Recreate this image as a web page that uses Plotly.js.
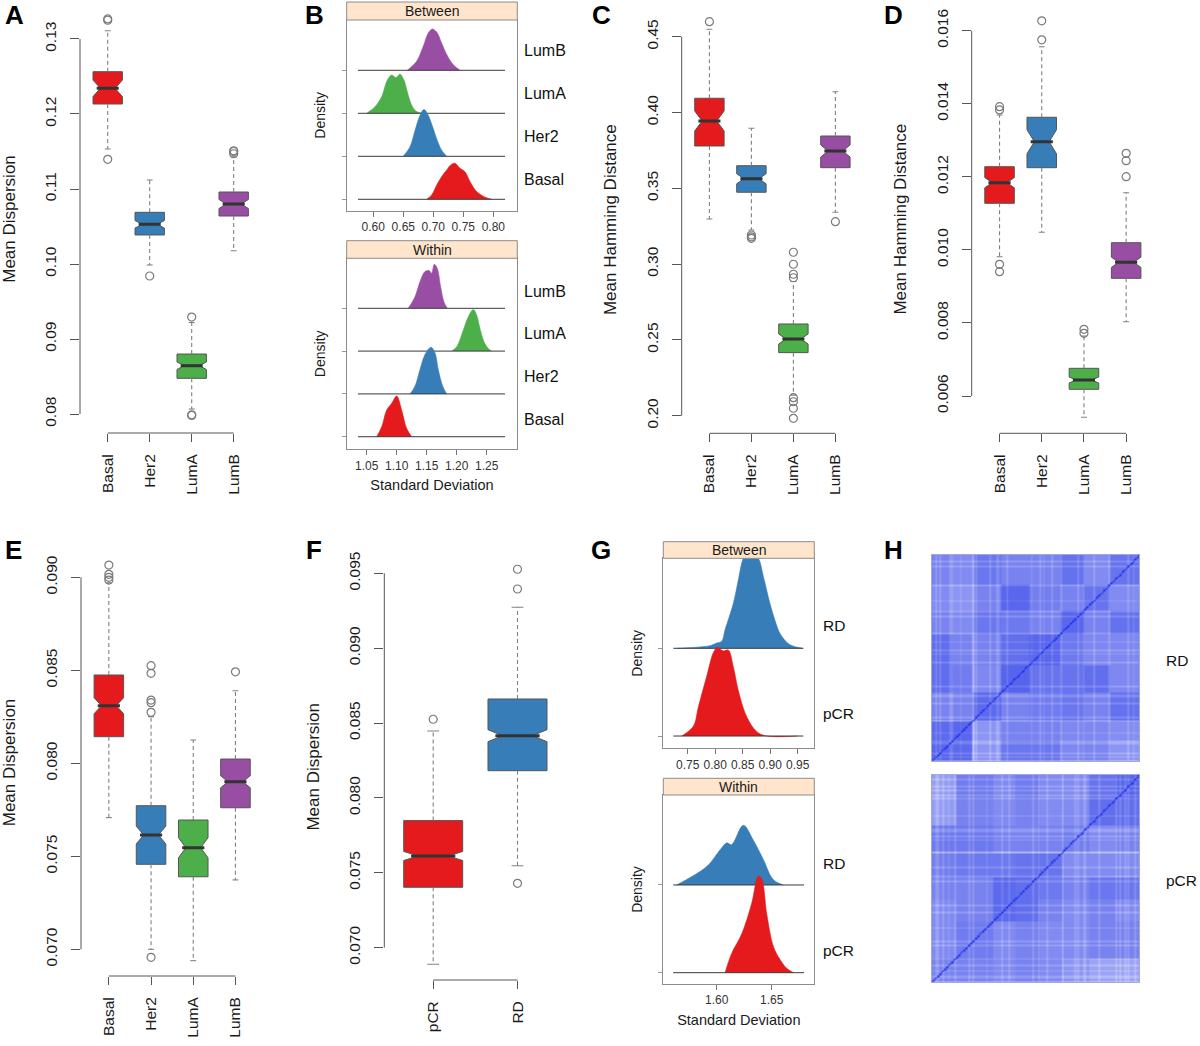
<!DOCTYPE html>
<html><head><meta charset="utf-8">
<script src="https://cdn.plot.ly/plotly-3.0.1.min.js"></script>
<style>html,body{margin:0;padding:0;background:#fff}#chart{width:1200px;height:1046px}</style>
</head><body><div id="chart"></div>
<script>
// ================= DATA =================
const subtypes = ['Basal', 'Her2', 'LumA', 'LumB'];
const subtypeColors = ['#E41A1C', '#377EB8', '#4DAF4A', '#984EA3'];
const responses = ['pCR', 'RD'];
const responseColors = ['#E41A1C', '#377EB8'];

// Panel A - Mean Dispersion by subtype
const aQ1 = [0.12133, 0.10387, 0.08476, 0.10640];
const aMed = [0.12342, 0.10529, 0.08644, 0.10800];
const aQ3 = [0.12564, 0.10689, 0.08800, 0.10960];
const aLo = [0.11533, 0.09987, 0.08067, 0.10177];
const aHi = [0.13110, 0.11120, 0.09220, 0.11430];
const aNotch = [0.0011, 0.0005, 0.0005, 0.0006];
const aOut = [[0.13267, 0.13250, 0.11396], [0.09840], [0.09293, 0.07990, 0.07980], [0.11510, 0.11470, 0.11500]];
const aTicks = [0.08, 0.09, 0.10, 0.11, 0.12, 0.13];

// Panel C - Mean Hamming Distance by subtype
const cQ1 = [0.3779, 0.3474, 0.2416, 0.3636];
const cMed = [0.3944, 0.3563, 0.2506, 0.3746];
const cQ3 = [0.4094, 0.3649, 0.2605, 0.3845];
const cLo = [0.3297, 0.3225, 0.2136, 0.3342];
const cHi = [0.4549, 0.3896, 0.2885, 0.4137];
const cNotch = [0.0066, 0.0033, 0.0033, 0.0040];
const cOut = [[0.4599], [0.3192, 0.3170, 0.3180], [0.3078, 0.2999, 0.2933, 0.2910, 0.2119, 0.2092, 0.2049, 0.1983], [0.3280]];
const cTicks = [0.20, 0.25, 0.30, 0.35, 0.40, 0.45];

// Panel D - Mean Hamming Distance by subtype
const dQ1 = [0.011275, 0.01225, 0.006184, 0.009222];
const dMed = [0.011839, 0.01296, 0.006439, 0.009661];
const dQ3 = [0.012277, 0.01363, 0.006759, 0.010197];
const dLo = [0.009814, 0.010482, 0.005418, 0.008035];
const dHi = [0.013693, 0.01556, 0.007643, 0.011566];
const dNotch = [0.00014, 0.00033, 0.00008, 0.00014];
const dOut = [[0.01392, 0.01383, 0.009606, 0.009403], [0.01575, 0.01627], [0.007826, 0.007717], [0.012004, 0.012442, 0.012644]];
const dTicks = [0.006, 0.008, 0.010, 0.012, 0.014, 0.016];

// Panel E - Mean Dispersion by subtype
const eQ1 = [0.08143, 0.07457, 0.07390, 0.07761];
const eMed = [0.083097, 0.076145, 0.07546, 0.07901];
const eQ3 = [0.084747, 0.07772, 0.07695, 0.08023];
const eLo = [0.07708, 0.07000, 0.06939, 0.07373];
const eHi = [0.08970, 0.08251, 0.08125, 0.08390];
const eNotch = [0.00043, 0.00048, 0.00054, 0.00032];
const eOut = [[0.09066, 0.09016, 0.09000, 0.08985], [0.08525, 0.08484, 0.08340, 0.08326, 0.08274, 0.06957], [], [0.08492]];
const eTicks = [0.070, 0.075, 0.080, 0.085, 0.090];

// Panel F - Mean Dispersion by response
const fQ1 = [0.074029, 0.081816];
const fMed = [0.076119, 0.084154];
const fQ3 = [0.078482, 0.086605];
const fLo = [0.068886, 0.075470];
const fHi = [0.084470, 0.092730];
const fNotch = [0.0003, 0.0004];
const fOut = [[0.08525], [0.09527, 0.09395, 0.074296]];
const fTicks = [0.070, 0.075, 0.080, 0.085, 0.090, 0.095];

// Panel B - density ridges (order: Basal, Her2, LumA, LumB; heights relative to row spacing)
const bBetweenX = [
  [0.689, 0.6973, 0.7057, 0.714, 0.7223, 0.729, 0.7362, 0.7445, 0.7528, 0.7612, 0.7723, 0.7862, 0.7973],
  [0.650, 0.6612, 0.6695, 0.6778, 0.6845, 0.6917, 0.699, 0.7067, 0.714, 0.7223],
  [0.589, 0.6028, 0.614, 0.6233, 0.6306, 0.6378, 0.6445, 0.6512, 0.6567, 0.664, 0.6723, 0.6833],
  [0.6567, 0.6722, 0.6833, 0.6917, 0.6983, 0.7056, 0.714, 0.7223, 0.7333, 0.7445]
];
const bBetweenH = [
  [0, 0.10, 0.33, 0.53, 0.68, 0.80, 0.84, 0.72, 0.64, 0.41, 0.18, 0.05, 0],
  [0, 0.22, 0.60, 0.95, 1.09, 0.95, 0.68, 0.37, 0.14, 0],
  [0, 0.15, 0.39, 0.77, 0.89, 0.83, 0.91, 0.77, 0.50, 0.19, 0.04, 0],
  [0, 0.21, 0.56, 0.87, 0.96, 0.89, 0.63, 0.37, 0.13, 0]
];
const bBetweenSpan = [0.5745, 0.8195];
const bBetweenTicks = [0.60, 0.65, 0.70, 0.75, 0.80];

const bWithinX = [
  [1.0667, 1.075, 1.0833, 1.0917, 1.100, 1.1083, 1.1167, 1.125],
  [1.1222, 1.1305, 1.1388, 1.1472, 1.1572, 1.1638, 1.1693, 1.1767, 1.1833],
  [1.1917, 1.200, 1.211, 1.2193, 1.2277, 1.2333, 1.2388, 1.2455, 1.2527, 1.2583],
  [1.1193, 1.1305, 1.1388, 1.1472, 1.1543, 1.1583, 1.1627, 1.1677, 1.1733, 1.1788, 1.1843]
];
const bWithinH = [
  [0, 0.23, 0.62, 0.78, 0.95, 0.62, 0.19, 0],
  [0, 0.18, 0.57, 0.92, 1.09, 0.96, 0.57, 0.18, 0],
  [0, 0.10, 0.49, 0.80, 0.97, 0.84, 0.53, 0.22, 0.06, 0],
  [0, 0.27, 0.62, 0.86, 0.88, 0.82, 1.03, 0.93, 0.50, 0.15, 0]
];
const bWithinSpan = [1.0355, 1.2805];
const bWithinTicks = [1.05, 1.10, 1.15, 1.20, 1.25];

// Panel G - density ridges (order: pCR, RD)
const gBetweenX = [
  [0.739, 0.7602, 0.7693, 0.7845, 0.7966, 0.8039, 0.8148, 0.8239, 0.8329, 0.842, 0.8573, 0.8755, 0.8936, 0.950],
  [0.730, 0.7905, 0.8027, 0.8118, 0.8178, 0.8329, 0.842, 0.8511, 0.862, 0.8784, 0.8875, 0.8996, 0.9087, 0.9178, 0.936, 0.960]
];
const gBetweenH = [
  [0, 0.11, 0.33, 0.68, 0.95, 1.01, 0.97, 0.98, 0.79, 0.52, 0.22, 0.05, 0, 0],
  [0, 0.03, 0.06, 0.08, 0.21, 0.51, 0.78, 1.03, 1.14, 1.03, 0.82, 0.51, 0.32, 0.17, 0.04, 0]
];
const gBetweenSpan = [0.7238, 0.9602];
const gBetweenTicks = [0.75, 0.80, 0.85, 0.90, 0.95];

const gWithinX = [
  [1.6076, 1.6136, 1.6227, 1.6318, 1.6379, 1.6409, 1.6455, 1.6515, 1.6576, 1.6636, 1.6697],
  [1.5636, 1.5909, 1.603, 1.6091, 1.6136, 1.6242, 1.6333, 1.6424, 1.6515, 1.6606]
];
const gWithinH = [
  [0, 0.22, 0.44, 0.79, 1.10, 1.07, 0.67, 0.30, 0.15, 0.05, 0],
  [0, 0.21, 0.40, 0.48, 0.46, 0.68, 0.51, 0.29, 0.06, 0]
];
const gWithinSpan = [1.5605, 1.6794];
const gWithinTicks = [1.60, 1.65];

// Panel H - similarity matrices: cluster boundaries (fraction of samples), block intensities,
// strong and faint light stripes (fraction positions)
const hmSize = 120;
const hmRdBounds = [0, 0.10, 0.19, 0.33, 0.47, 0.62, 0.73, 0.86, 1.0];
const hmRdBlocks = [
  [0.70, 0.68, 0.50, 0.62, 0.62, 0.55, 0.56, 0.50],
  [0.68, 0.70, 0.50, 0.57, 0.57, 0.55, 0.55, 0.53],
  [0.57, 0.57, 0.68, 0.57, 0.60, 0.62, 0.57, 0.64],
  [0.66, 0.60, 0.55, 0.72, 0.63, 0.63, 0.65, 0.55],
  [0.66, 0.57, 0.57, 0.65, 0.70, 0.61, 0.55, 0.55],
  [0.57, 0.54, 0.62, 0.61, 0.57, 0.70, 0.57, 0.64],
  [0.54, 0.50, 0.57, 0.70, 0.59, 0.57, 0.63, 0.54],
  [0.57, 0.54, 0.62, 0.57, 0.57, 0.64, 0.54, 0.63]
];
const hmRdStrong = [0.195];
const hmRdFaint = [0.024, 0.035, 0.084, 0.096, 0.14, 0.212, 0.277, 0.309, 0.322, 0.362, 0.477, 0.523,
  0.534, 0.582, 0.622, 0.703, 0.732, 0.775, 0.855, 0.944, 0.973];
const hmPcrBounds = [0, 0.12, 0.29, 0.40, 0.51, 0.625, 0.76, 0.88, 1.0];
const hmPcrBlocks = [
  [0.57, 0.57, 0.54, 0.57, 0.54, 0.50, 0.46, 0.46],
  [0.54, 0.60, 0.54, 0.57, 0.54, 0.54, 0.57, 0.57],
  [0.54, 0.57, 0.68, 0.65, 0.57, 0.54, 0.57, 0.54],
  [0.57, 0.57, 0.68, 0.65, 0.61, 0.57, 0.62, 0.62],
  [0.59, 0.61, 0.61, 0.63, 0.63, 0.54, 0.54, 0.54],
  [0.61, 0.61, 0.57, 0.57, 0.57, 0.59, 0.54, 0.57],
  [0.48, 0.57, 0.54, 0.57, 0.54, 0.54, 0.65, 0.65],
  [0.48, 0.60, 0.54, 0.60, 0.54, 0.54, 0.63, 0.70]
];
const hmPcrStrong = [0.625];
const hmPcrFaint = [0.019, 0.032, 0.051, 0.08, 0.116, 0.18, 0.193, 0.26, 0.341, 0.37, 0.486, 0.514,
  0.55, 0.691, 0.703, 0.727, 0.74, 0.807, 0.884, 0.904, 0.932, 0.944, 0.981];

// ================= LAYOUT HELPERS =================
const W = 1200, H = 1046;
const FONT = 'Liberation Sans, Arial, Helvetica, sans-serif';
const px = x => x / W;
const py = y => 1 - y / H;
const traces = [], shapes = [], annotations = [];
const layout = {
  width: W, height: H, margin: {l: 0, r: 0, t: 0, b: 0},
  showlegend: false, hovermode: false,
  paper_bgcolor: '#ffffff', plot_bgcolor: 'rgba(0,0,0,0)',
  font: {family: FONT, color: '#222'}
};
const sfx = n => (n === 1 ? '' : String(n));

function boxPanel(n, cats, colors, q1, med, q3, lo, hi, notch, outs, c) {
  const xa = 'x' + sfx(n), ya = 'y' + sfx(n);
  const bw = 0.7, cap = 0.07, medHalf = bw / 2 * 0.75;
  cats.forEach((cat, i) => {
    const p = i + 1;
    traces.push({type: 'scatter', mode: 'lines', xaxis: xa, yaxis: ya,
      x: [p, p, null, p, p], y: [q3[i], hi[i], null, q1[i], lo[i]],
      line: {color: '#808080', width: 1.1, dash: '4px,3px'}, hoverinfo: 'skip'});
    traces.push({type: 'scatter', mode: 'lines', xaxis: xa, yaxis: ya,
      x: [p - cap, p + cap, null, p - cap, p + cap], y: [hi[i], hi[i], null, lo[i], lo[i]],
      line: {color: '#808080', width: 1.1}, hoverinfo: 'skip'});
    traces.push({type: 'box', xaxis: xa, yaxis: ya, name: cat, x: [p],
      q1: [q1[i]], median: [med[i]], q3: [q3[i]], lowerfence: [q1[i]], upperfence: [q3[i]],
      notched: true, notchspan: [notch[i]], notchwidth: 0.25, width: bw, whiskerwidth: 0,
      fillcolor: colors[i], line: {color: '#555555', width: 1}, boxpoints: false, hoverinfo: 'skip'});
    traces.push({type: 'scatter', mode: 'lines', xaxis: xa, yaxis: ya,
      x: [p - medHalf, p + medHalf], y: [med[i], med[i]],
      line: {color: '#333333', width: 3}, hoverinfo: 'skip'});
    if (outs[i].length) traces.push({type: 'scatter', mode: 'markers', xaxis: xa, yaxis: ya,
      x: outs[i].map(() => p), y: outs[i],
      marker: {symbol: 'circle-open', size: 8, color: '#7a7a7a', line: {width: 1.2}}, hoverinfo: 'skip'});
  });
  layout['xaxis' + sfx(n)] = {
    domain: [px(c.left), px(c.right)], range: c.xr, anchor: ya,
    tickvals: cats.map((_, i) => i + 1), ticktext: cats, tickangle: -90,
    ticks: 'outside', ticklen: 8, tickcolor: '#555', tickwidth: 1, ticklabelstandoff: 6,
    showline: false, showgrid: false, zeroline: false,
    tickfont: {family: FONT, size: 15.5, color: '#1a1a1a'}
  };
  layout['yaxis' + sfx(n)] = {
    domain: [py(c.bottom), py(c.top)], range: c.yr, anchor: xa,
    tickvals: c.ticks, tickformat: c.fmt, tickangle: -90,
    ticks: 'outside', ticklen: 9, tickcolor: '#555', tickwidth: 1, ticklabelstandoff: 8,
    showline: false, showgrid: false, zeroline: false,
    tickfont: {family: FONT, size: 15.5, color: '#1a1a1a'},
    title: {text: c.title, standoff: c.standoff, font: {family: FONT, size: 17, color: '#1a1a1a'}}
  };
  shapes.push({type: 'line', xref: 'paper', yref: ya, x0: px(c.left), x1: px(c.left),
    y0: c.ticks[0], y1: c.ticks[c.ticks.length - 1], line: {color: '#555', width: 1}});
  shapes.push({type: 'line', xref: xa, yref: 'paper', x0: 1, x1: cats.length,
    y0: py(c.bottom), y1: py(c.bottom), line: {color: '#555', width: 1}});
}

function ridgePanel(n, groups, colors, xs, hs, span, c) {
  const xa = 'x' + sfx(n), ya = 'y' + sfx(n);
  for (let k = groups.length - 1; k >= 0; k--) {
    traces.push({type: 'scatter', mode: 'lines', xaxis: xa, yaxis: ya,
      x: xs[k], y: hs[k].map(h => h + k), fill: 'toself', fillcolor: colors[k],
      line: {color: colors[k], width: 0.6, shape: 'spline', smoothing: 1}, hoverinfo: 'skip'});
    traces.push({type: 'scatter', mode: 'lines', xaxis: xa, yaxis: ya,
      x: span, y: [k, k], line: {color: '#3a3a3a', width: 1}, hoverinfo: 'skip'});
    annotations.push({xref: 'paper', yref: ya, x: px(c.labelX), y: k + c.labelOff,
      text: groups[k], showarrow: false, xanchor: 'left', yanchor: 'middle',
      font: {family: FONT, size: c.labelSize, color: '#111'}});
  }
  layout['xaxis' + sfx(n)] = {
    domain: [px(c.left), px(c.right)], range: c.xr, anchor: ya,
    tickvals: c.ticks, tickformat: '.2f',
    ticks: 'outside', ticklen: 5, tickcolor: '#777', tickwidth: 1,
    showline: true, mirror: true, linecolor: '#8c8c8c', linewidth: 1,
    showgrid: false, zeroline: false,
    tickfont: {family: FONT, size: 12, color: '#333'},
    title: c.xtitle ? {text: c.xtitle, standoff: 8, font: {family: FONT, size: 14.5, color: '#1a1a1a'}} : undefined
  };
  layout['yaxis' + sfx(n)] = {
    domain: [py(c.bottom), py(c.top)], range: c.yr, anchor: xa,
    tickvals: groups.map((_, i) => i), showticklabels: false,
    ticks: 'outside', ticklen: 4, tickcolor: '#999',
    showline: true, mirror: true, linecolor: '#8c8c8c', linewidth: 1,
    showgrid: false, zeroline: false,
    title: {text: 'Density', standoff: 12, font: {family: FONT, size: 14, color: '#1a1a1a'}}
  };
  shapes.push({type: 'rect', xref: 'paper', yref: 'paper',
    x0: px(c.left), x1: px(c.right), y0: py(c.top), y1: py(c.stripTop),
    fillcolor: '#FFE5CC', line: {color: '#8c8c8c', width: 1}, layer: 'above'});
  annotations.push({xref: 'paper', yref: 'paper', x: px((c.left + c.right) / 2), y: py((c.top + c.stripTop) / 2),
    text: c.strip, showarrow: false, xanchor: 'center', yanchor: 'middle',
    font: {family: FONT, size: 14, color: '#1a1a1a'}});
}

function buildMatrix(bounds, blocks, strong, faint, N) {
  const cl = [];
  for (let i = 0; i < N; i++) {
    const f = (i + 0.5) / N;
    let c = 0;
    while (c < bounds.length - 2 && f >= bounds[c + 1]) c++;
    cl.push(c);
  }
  const fac = new Array(N).fill(1);
  faint.forEach(f => { fac[Math.min(N - 1, Math.floor(f * N))] = 0.86; });
  strong.forEach(f => { fac[Math.min(N - 1, Math.floor(f * N))] = 0.7; });
  const z = [];
  for (let i = 0; i < N; i++) {
    const row = [];
    for (let j = 0; j < N; j++) {
      row.push(i === j ? 1 : blocks[cl[i]][cl[j]] * fac[i] * fac[j]);
    }
    z.push(row);
  }
  return z;
}

const hmScale = [[0, 'rgb(246,247,254)'], [0.35, 'rgb(196,201,249)'], [0.5, 'rgb(140,149,242)'],
  [0.65, 'rgb(98,111,237)'], [0.8, 'rgb(70,85,236)'], [1, 'rgb(20,38,240)']];

function heatPanel(n, z, c) {
  const xa = 'x' + sfx(n), ya = 'y' + sfx(n);
  traces.push({type: 'heatmap', xaxis: xa, yaxis: ya, z: z, colorscale: hmScale, zmin: 0, zmax: 1,
    showscale: false, zsmooth: 'best', hoverinfo: 'skip'});
  const ax = {showticklabels: false, ticks: '', showgrid: false, zeroline: false,
    showline: true, mirror: true, linecolor: '#a3a8d6', linewidth: 1};
  layout['xaxis' + sfx(n)] = Object.assign({domain: [px(c.left), px(c.right)], range: [-0.5, z.length - 0.5], anchor: ya}, ax);
  layout['yaxis' + sfx(n)] = Object.assign({domain: [py(c.bottom), py(c.top)], range: [-0.5, z.length - 0.5], anchor: xa}, ax);
  annotations.push({xref: 'paper', yref: 'paper', x: px(c.labelX), y: py(c.labelY), text: c.label,
    showarrow: false, xanchor: 'center', yanchor: 'middle', font: {family: FONT, size: 15.5, color: '#111'}});
}

// ================= PANELS =================
boxPanel(1, subtypes, subtypeColors, aQ1, aMed, aQ3, aLo, aHi, aNotch, aOut,
  {left: 80, right: 261.4, top: 5, bottom: 433, xr: [0.34, 4.66], yr: [0.07747, 0.13453],
   ticks: aTicks, fmt: '.2f', title: 'Mean Dispersion', standoff: 22});
ridgePanel(2, subtypes, subtypeColors, bBetweenX, bBetweenH, bBetweenSpan,
  {left: 346.7, right: 517.3, top: 20, bottom: 210.7, stripTop: 2, xr: [0.5557, 0.84], yr: [-0.265, 4.17],
   ticks: bBetweenTicks, strip: 'Between', labelX: 521.7, labelOff: 0.46, labelSize: 16});
ridgePanel(3, subtypes, subtypeColors, bWithinX, bWithinH, bWithinSpan,
  {left: 346.7, right: 517.3, top: 258.3, bottom: 449.3, stripTop: 240.7, xr: [1.0167, 1.301], yr: [-0.294, 4.168],
   ticks: bWithinTicks, strip: 'Within', labelX: 521.7, labelOff: 0.40, labelSize: 16, xtitle: 'Standard Deviation'});
boxPanel(4, subtypes, subtypeColors, cQ1, cMed, cQ3, cLo, cHi, cNotch, cOut,
  {left: 681.7, right: 863.1, top: 6, bottom: 433.3, xr: [0.34, 4.66], yr: [0.18839, 0.47025],
   ticks: cTicks, fmt: '.2f', title: 'Mean Hamming Distance', standoff: 22});
boxPanel(5, subtypes, subtypeColors, dQ1, dMed, dQ3, dLo, dHi, dNotch, dOut,
  {left: 971.7, right: 1154, top: 5, bottom: 433.3, xr: [0.34, 4.66], yr: [0.004980, 0.016703],
   ticks: dTicks, fmt: '.3f', title: 'Mean Hamming Distance', standoff: 22});
boxPanel(6, subtypes, subtypeColors, eQ1, eMed, eQ3, eLo, eHi, eNotch, eOut,
  {left: 81, right: 263.3, top: 549, bottom: 976, xr: [0.34, 4.66], yr: [0.068565, 0.091522],
   ticks: eTicks, fmt: '.3f', title: 'Mean Dispersion', standoff: 22});
boxPanel(7, responses, responseColors, fQ1, fMed, fQ3, fLo, fHi, fNotch, fOut,
  {left: 384.3, right: 566.4, top: 553.5, bottom: 980, xr: [0.42, 2.58], yr: [0.067836, 0.096322],
   ticks: fTicks, fmt: '.3f', title: 'Mean Dispersion', standoff: 22});
ridgePanel(8, responses, responseColors, gBetweenX, gBetweenH, gBetweenSpan,
  {left: 663.3, right: 814.3, top: 558.3, bottom: 748.3, stripTop: 541.7, xr: [0.7056, 0.9802], yr: [-0.14, 2.026],
   ticks: gBetweenTicks, strip: 'Between', labelX: 821, labelOff: 0.26, labelSize: 15.5});
ridgePanel(9, responses, responseColors, gWithinX, gWithinH, gWithinSpan,
  {left: 663.3, right: 814.3, top: 795, bottom: 984, stripTop: 778.3, xr: [1.5515, 1.6887], yr: [-0.129, 2.026],
   ticks: gWithinTicks, strip: 'Within', labelX: 821, labelOff: 0.25, labelSize: 15.5, xtitle: 'Standard Deviation'});
heatPanel(10, buildMatrix(hmRdBounds, hmRdBlocks, hmRdStrong, hmRdFaint, hmSize),
  {left: 931.7, right: 1139.3, top: 555, bottom: 760.7, label: 'RD', labelX: 1176.7, labelY: 660});
heatPanel(11, buildMatrix(hmPcrBounds, hmPcrBlocks, hmPcrStrong, hmPcrFaint, hmSize),
  {left: 931.7, right: 1139.3, top: 775, bottom: 981.7, label: 'pCR', labelX: 1181.7, labelY: 880});

// panel letters
const panelLetters = ['A', 'B', 'C', 'D', 'E', 'F', 'G', 'H'];
const letterPos = [[14, 15], [314, 15], [601, 15], [893, 15], [13, 550], [314, 550], [601, 550], [893, 550]];
panelLetters.forEach((t, i) => annotations.push({xref: 'paper', yref: 'paper',
  x: px(letterPos[i][0]), y: py(letterPos[i][1]), text: '<b>' + t + '</b>', showarrow: false,
  xanchor: 'center', yanchor: 'middle', font: {family: FONT, size: 26, color: '#000'}}));

layout.shapes = shapes;
layout.annotations = annotations;
Plotly.newPlot('chart', traces, layout, {staticPlot: true, displayModeBar: false});
</script>
</body></html>
